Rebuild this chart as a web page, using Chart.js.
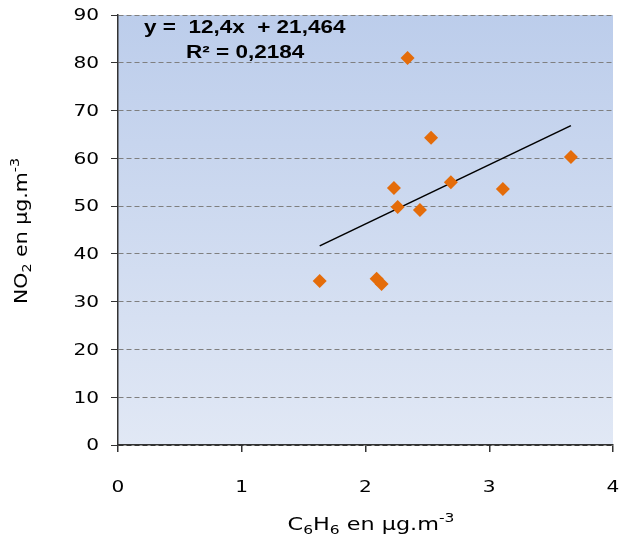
<!DOCTYPE html>
<html>
<head>
<meta charset="utf-8">
<script src="https://cdn.jsdelivr.net/npm/chart.js@4/dist/chart.umd.min.js"></script>
<style>
  html, body { margin: 0; padding: 0; background: #ffffff; }
  #wrap { width: 621px; height: 542px; position: relative; }
</style>
</head>
<body>
<div id="wrap"><canvas id="c" width="621" height="542"></canvas></div>
<script>
// Benzene (C6H6) vs nitrogen dioxide (NO2) concentrations, µg/m³
const benzene = [1.63, 2.09, 2.13, 2.34, 2.53, 2.23, 2.26, 2.44, 2.69, 3.11, 3.66];
const no2     = [34.3, 34.8, 33.7, 81.0, 64.3, 53.8, 49.8, 49.2, 55.0, 53.6, 60.3];

// Linear regression as reported
const slope = 12.4;
const intercept = 21.464;
const eqLabel = 'y =  12,4x  + 21,464';
const r2Label = 'R² = 0,2184';

const xTicks = [0, 1, 2, 3, 4];
const yTicks = [0, 10, 20, 30, 40, 50, 60, 70, 80, 90];

const points = benzene.map((x, i) => ({ x: x, y: no2[i] }));
const xMin = Math.min(...benzene), xMax = Math.max(...benzene);
const trend = [
  { x: xMin, y: slope * xMin + intercept },
  { x: xMax, y: slope * xMax + intercept }
];

const FONT = '"DejaVu Sans"';
const SX = 1.22; // horizontal widening used for all labels

// draw text widened horizontally by sx, anchored by align
function wideText(ctx, text, x, y, sx, align) {
  const w = ctx.measureText(text).width * sx;
  let x0 = x;
  if (align === 'center') x0 = x - w / 2;
  else if (align === 'right') x0 = x - w;
  ctx.save();
  ctx.translate(x0, y);
  ctx.scale(sx, 1);
  ctx.textAlign = 'left';
  ctx.fillText(text, 0, 0);
  ctx.restore();
}

// rich text pieces: [text, size, dy]
function richWidth(ctx, parts) {
  let w = 0;
  for (const p of parts) { ctx.font = p[1] + 'px ' + FONT; w += ctx.measureText(p[0]).width; }
  return w;
}
function richDraw(ctx, parts, x, y) {
  let cx = x;
  for (const p of parts) {
    ctx.font = p[1] + 'px ' + FONT;
    ctx.fillText(p[0], cx, y + p[2]);
    cx += ctx.measureText(p[0]).width;
  }
}

const decor = {
  id: 'decor',
  beforeDraw(chart) {
    const { ctx, chartArea: a } = chart;
    ctx.save();
    const g = ctx.createLinearGradient(0, a.top, 0, a.bottom);
    g.addColorStop(0, '#bccdeb');
    g.addColorStop(1, '#e1e8f5');
    ctx.fillStyle = g;
    ctx.fillRect(a.left, a.top, a.right - a.left, a.bottom - a.top);
    ctx.restore();
  },
  afterDraw(chart) {
    const { ctx, chartArea: a, scales } = chart;
    ctx.save();
    ctx.fillStyle = '#000';
    ctx.textBaseline = 'middle';

    // tick labels
    ctx.font = '16.5px ' + FONT;
    for (const v of yTicks) {
      wideText(ctx, String(v), 99, scales.y.getPixelForValue(v) + 1, SX, 'right');
    }
    for (const v of xTicks) {
      wideText(ctx, String(v), scales.x.getPixelForValue(v), 488, SX, 'center');
    }

    ctx.textBaseline = 'alphabetic';
    // x title: C6H6 en µg.m-3
    const xTitle = [['C', 18, 0], ['6', 12.5, 4], ['H', 18, 0], ['6', 12.5, 4], [' en µg.m', 18, 0], ['-3', 12.5, -8]];
    const wx = richWidth(ctx, xTitle) * 1.24;
    ctx.save();
    ctx.translate(371 - wx / 2, 530);
    ctx.scale(1.24, 1);
    richDraw(ctx, xTitle, 0, 0);
    ctx.restore();

    // y title: NO2 en µg.m-3
    const yTitle = [['NO', 18, 0], ['2', 12.5, 4], [' en µg.m', 18, 0], ['-3', 12.5, -8]];
    const wy = richWidth(ctx, yTitle) * 1.14;
    ctx.save();
    ctx.translate(27, 231);
    ctx.rotate(-Math.PI / 2);
    ctx.scale(1.14, 1);
    richDraw(ctx, yTitle, -wy / 2 / 1.14, 0);
    ctx.restore();

    // regression equation
    ctx.font = 'bold 18px "Liberation Sans"';
    wideText(ctx, eqLabel, 144, 33, 1.25, 'left');
    wideText(ctx, r2Label, 186, 58, 1.25, 'left');
    ctx.restore();
  }
};

new Chart(document.getElementById('c'), {
  data: {
    datasets: [
      {
        type: 'line',
        data: trend,
        borderColor: '#000000',
        borderWidth: 1.6,
        pointRadius: 0,
        fill: false,
        order: 2
      },
      {
        type: 'scatter',
        data: points,
        pointStyle: 'rectRot',
        pointRadius: 7,
        backgroundColor: '#e46c0a',
        borderColor: '#e46c0a',
        borderWidth: 0,
        order: 1
      }
    ]
  },
  options: {
    responsive: false,
    animation: false,
    devicePixelRatio: 1,
    layout: { padding: { left: 0, right: 8, top: 15, bottom: 0 } },
    plugins: { legend: { display: false }, tooltip: { enabled: false } },
    scales: {
      x: {
        type: 'linear',
        min: 0, max: 4,
        afterBuildTicks: s => { s.ticks = xTicks.map(v => ({ value: v })); },
        afterFit: s => { s.height = 97; s.paddingLeft = 0; s.paddingRight = 0; },
        grid: { display: true, drawOnChartArea: false, drawTicks: true, tickLength: 7, color: '#333', lineWidth: 1.5 },
        border: { display: true, color: '#333', width: 1.5 },
        ticks: { color: 'rgba(0,0,0,0)', font: { family: 'DejaVu Sans', size: 16 }, padding: 20, maxRotation: 0 }
      },
      y: {
        type: 'linear',
        min: 0, max: 90,
        afterBuildTicks: s => { s.ticks = yTicks.map(v => ({ value: v })); },
        afterFit: s => { s.width = 118; s.paddingTop = 0; s.paddingBottom = 0; },
        grid: {
          display: true,
          drawTicks: true,
          tickLength: 7,
          color: ctx => ctx.tick && ctx.tick.value === 0 ? '#333' : '#7f7f7f',
          tickColor: '#333',
          lineWidth: 1
        },
        border: { display: true, color: '#333', width: 1.5, dash: [5, 3] },
        ticks: { color: 'rgba(0,0,0,0)', font: { family: 'DejaVu Sans', size: 16 }, padding: 10 }
      }
    }
  },
  plugins: [decor]
});
</script>
</body>
</html>
